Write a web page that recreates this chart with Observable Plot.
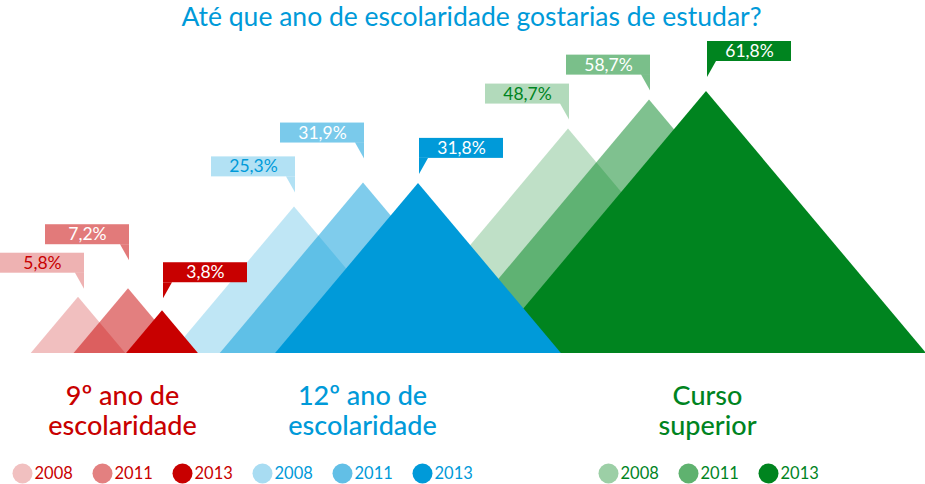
<!DOCTYPE html>
<html><head><meta charset="utf-8">
<script src="https://cdn.jsdelivr.net/npm/d3@7"></script>
<script src="https://cdn.jsdelivr.net/npm/@observablehq/plot@0.6"></script>
<style>
body{margin:0;background:#fff;font-family:Lato,sans-serif;}
#title{height:36px;line-height:32px;font-size:26.5px;color:#009ad9;text-align:center;padding-left:18px;box-sizing:border-box;white-space:nowrap;}
</style></head><body>
<div id="title">Até que ano de escolaridade gostarias de estudar?</div>
<div id="chart"></div>
<script>
// ---- data ----
const groups = ["9º ano de\nescolaridade", "12º ano de\nescolaridade", "Curso\nsuperior"];
const years = ["2008", "2011", "2013"];
const values9 = [5.8, 7.2, 3.8];
const values12 = [25.3, 31.9, 31.8];
const valuesSuperior = [48.7, 58.7, 61.8];

// ---- layout / style ----
const peakX = [[78, 128, 162], [294, 363, 418], [568, 649, 706]];
const calloutGap = [[8, 28, 12], [14, 24, 9], [9, 9, 14]];
const groupLabelX = [122, 362, 707];
const legendX = [[22, 102, 182], [262, 342, 422], [608, 688, 768]];
const groupColors = ["#c80000", "#009ad9", "#00841f"];
const triOpacity = [0.25, 0.5, 1];
const boxOpacity = [0.3, 0.52, 1];
const legendColors = [["#f1c0c0", "#e38080", "#c80000"], ["#a8dcf2", "#62bfe6", "#009ad9"], ["#9ccfa6", "#5fb26f", "#00841f"]];
const FONT = "Lato, sans-serif";

const series = [values9, values12, valuesSuperior];
const fmt = d3.formatLocale({decimal: ",", thousands: ".", grouping: [3], currency: ["", "€"]}).format(".1f");

const yOpts = {type: "pow", exponent: 0.65, domain: [0, 61.8], range: [317, 55]};
const yS = Plot.scale({y: yOpts});
const base = yS.apply(0);

const marks = [];
// triangles: green, blue, then red on top; within a group 2008, 2011, 2013
for (const g of [2, 1, 0]) {
  for (let i = 0; i < 3; i++) {
    const v = series[g][i];
    const hw = (base - yS.apply(v)) * 0.84;
    const px = peakX[g][i];
    const pts = [{x: px - hw, y: 0}, {x: px, y: v}, {x: px + hw, y: 0}];
    marks.push(Plot.areaY(pts, {x: "x", y1: 0, y2: "y", fill: groupColors[g], fillOpacity: triOpacity[i], curve: "linear"}));
  }
}
// callouts
for (const g of [2, 1, 0]) {
  for (let i = 0; i < 3; i++) {
    const v = series[g][i];
    const px = peakX[g][i];
    const tip = yS.apply(v) - calloutGap[g][i];
    const bottom = tip - 16;
    const top = bottom - 20;
    let left, right, tail;
    if (i < 2) {
      right = px + 1; left = Math.max(0, right - 84); right = left + 84;
      tail = [{x: right - 9, a: yS.invert(bottom), b: yS.invert(bottom)}, {x: right, a: yS.invert(bottom), b: yS.invert(tip)}];
    } else {
      left = px + 1; right = left + 84;
      tail = [{x: left, a: yS.invert(bottom), b: yS.invert(tip)}, {x: left + 9, a: yS.invert(bottom), b: yS.invert(bottom)}];
    }
    const fill = groupColors[g];
    marks.push(Plot.rect([0], {x1: left, x2: right, y1: yS.invert(bottom), y2: yS.invert(top), fill, fillOpacity: boxOpacity[i]}));
    marks.push(Plot.areaY(tail, {x: "x", y1: "a", y2: "b", fill, fillOpacity: boxOpacity[i]}));
    marks.push(Plot.text([fmt(v) + "%"], {x: (left + right) / 2, y: yS.invert(top + 10), text: d => d,
      fill: i === 0 ? fill : "white", fontSize: 17.5, fontFamily: FONT, lineAnchor: "middle"}));
  }
}
// group labels
marks.push(Plot.text(groups, {x: (d, i) => groupLabelX[i], frameAnchor: "top", lineAnchor: "top", dy: 347,
  text: d => d, fill: (d, i) => groupColors[i], fontSize: 27, fontFamily: FONT, fontWeight: 500, lineHeight: 1.11}));
// legend
const legend = [];
for (let g = 0; g < 3; g++) for (let i = 0; i < 3; i++) legend.push({g, i, year: years[i]});
marks.push(Plot.dot(legend, {x: d => legendX[d.g][d.i], frameAnchor: "top", dy: 437, r: 10, fill: d => legendColors[d.g][d.i], stroke: null}));
marks.push(Plot.text(legend, {x: d => legendX[d.g][d.i] + 12, frameAnchor: "top", dy: 437, lineAnchor: "middle", textAnchor: "start",
  text: "year", fill: d => groupColors[d.g], fontSize: 16.5, fontFamily: FONT}));

const chart = Plot.plot({
  width: 925, height: 448,
  marginTop: 0, marginBottom: 0, marginLeft: 0, marginRight: 0,
  x: {domain: [0, 925], range: [0, 925], axis: null},
  y: {...yOpts, axis: null},
  color: {type: "identity"},
  style: {fontFamily: FONT, background: "white", overflow: "visible"},
  marks
});
document.getElementById("chart").appendChild(chart);
</script>
</body></html>
